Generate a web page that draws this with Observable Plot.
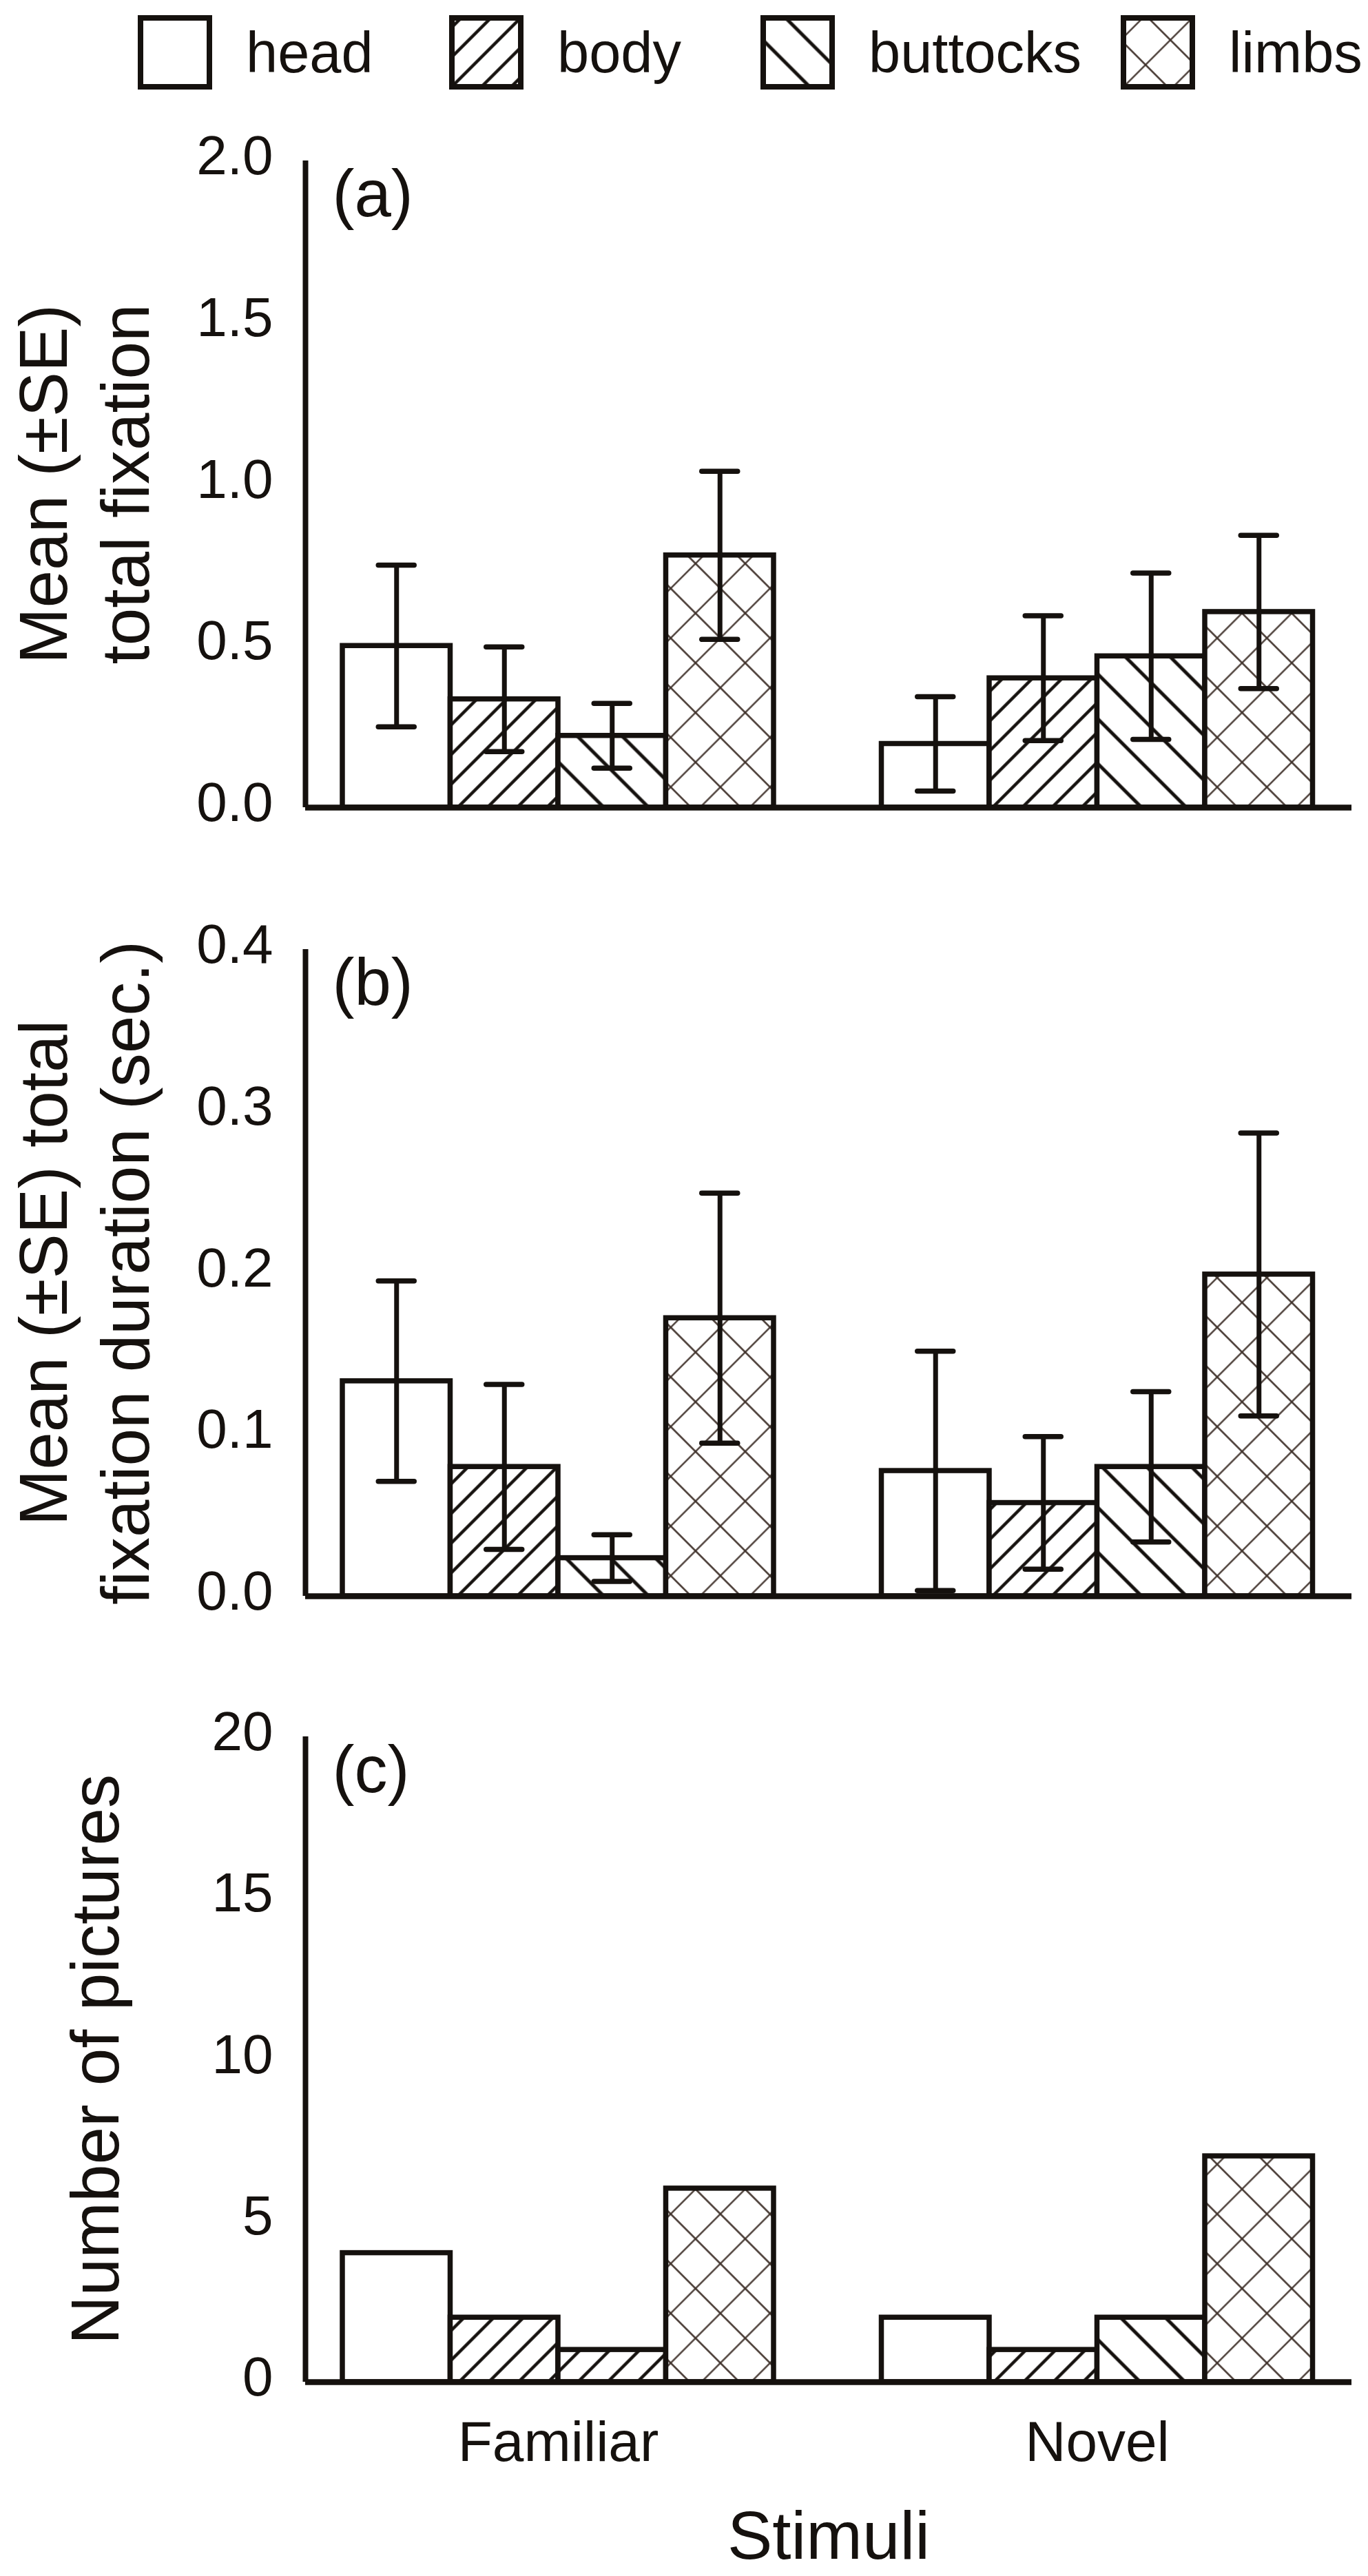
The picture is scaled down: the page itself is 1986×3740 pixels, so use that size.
<!DOCTYPE html>
<html>
<head>
<meta charset="utf-8">
<script src="https://cdn.jsdelivr.net/npm/d3@7"></script>
<script src="https://cdn.jsdelivr.net/npm/@observablehq/plot@0.6"></script>
<style>
  html, body { margin: 0; padding: 0; background: #fff; }
  #page { position: relative; width: 1986px; height: 3740px; overflow: hidden;
          font-family: "Liberation Sans", Arial, sans-serif; color: #15110e; }
  #legend { position: absolute; left: 200px; top: 22px; display: flex; }
  .item { display: flex; align-items: center; min-width: 395px; margin-right: 57px; }
  .item svg { flex: none; display: block; }
  .item span { font-size: 83px; line-height: 1; margin-left: 49px; }
  .panel { position: absolute; left: 0; }
</style>
</head>
<body>
<div id="page">
  <svg width="0" height="0" style="position:absolute;left:0;top:0">
    <defs>
      <pattern id="pat-head" patternUnits="userSpaceOnUse" width="10" height="10">
        <rect width="10" height="10" fill="#fff"/>
      </pattern>
      <pattern id="pat-body" patternUnits="userSpaceOnUse" width="30.5" height="30.5" patternTransform="rotate(45)">
        <rect width="30.5" height="30.5" fill="#fff"/>
        <line x1="15.25" y1="-2" x2="15.25" y2="33" stroke="#15110e" stroke-width="4.5"/>
      </pattern>
      <pattern id="pat-buttocks" patternUnits="userSpaceOnUse" width="46" height="46" patternTransform="rotate(-45)">
        <rect width="46" height="46" fill="#fff"/>
        <line x1="23" y1="-2" x2="23" y2="48" stroke="#15110e" stroke-width="5"/>
      </pattern>
      <pattern id="pat-limbs" patternUnits="userSpaceOnUse" width="51" height="51" patternTransform="rotate(45)">
        <rect width="51" height="51" fill="#fff"/>
        <line x1="25.5" y1="-2" x2="25.5" y2="53" stroke="#3e3029" stroke-width="2.3"/>
        <line x1="-2" y1="25.5" x2="53" y2="25.5" stroke="#3e3029" stroke-width="2.3"/>
      </pattern>
    </defs>
  </svg>
  <div id="legend"></div>
</div>
<script>
// ---------------- data ----------------
const groups = ["Familiar", "Novel"];
const parts = ["head", "body", "buttocks", "limbs"];

// (a) Mean (±SE) total fixation — order: Familiar head..limbs, Novel head..limbs
const fixationMean = [0.50, 0.335, 0.222, 0.78, 0.197, 0.40, 0.468, 0.605];
const fixationSE   = [0.25, 0.162, 0.100, 0.26, 0.146, 0.193, 0.257, 0.237];

// (b) Mean (±SE) total fixation duration (sec.)
const durationMean = [0.133, 0.080, 0.0236, 0.172, 0.0775, 0.0577, 0.080, 0.199];
const durationSE   = [0.062, 0.051, 0.0144, 0.0773, 0.074, 0.041, 0.0465, 0.0875];

// (c) Number of pictures
const pictureCount = [4, 2, 1, 6, 2, 1, 2, 7];
// hatch used for each bar in panel (c) as drawn in the original
const pictureHatch = ["head", "body", "body", "limbs", "head", "body", "buttocks", "limbs"];

const ticksA = [0, 0.5, 1.0, 1.5, 2.0];
const ticksB = [0, 0.1, 0.2, 0.3, 0.4];
const ticksC = [0, 5, 10, 15, 20];

const titleA = "Mean (±SE)\ntotal fixation";
const titleB = "Mean (±SE) total\nfixation duration (sec.)";
const titleC = "Number of pictures";
const xTitle = "Stimuli";

// ---------------- style ----------------
const INK = "#15110e";
const FONT = "Liberation Sans, Arial, sans-serif";
const W = 1986;
const ML = 443, MR = 24;
const xDomain = [-0.345, 9.361];   // slot units (one slot = one bar)
const CAP = 0.166;                  // half cap width, slot units

function buildRows(values, se, hatch) {
  const rows = [];
  groups.forEach((g, gi) => {
    parts.forEach((p, pi) => {
      const i = gi * parts.length + pi;
      const slot = gi * (parts.length + 1) + pi;
      rows.push({
        group: g, part: p, value: values[i], se: se ? se[i] : null,
        hatch: hatch ? hatch[i] : p, x1: slot, x2: slot + 1, xc: slot + 0.5
      });
    });
  });
  return rows;
}

const groupRows = groups.map((g, gi) => ({group: g, xc: gi * (parts.length + 1) + parts.length / 2}));

function panel({rows, yDomain, yTicks, yFormat, title, titleDx, tag, top, frameH, mb, xlabels}) {
  const mt = 100;
  const marks = [
    Plot.rect(rows, {
      x1: "x1", x2: "x2", y1: () => 0, y2: "value",
      fill: d => `url(#pat-${d.hatch})`, stroke: INK, strokeWidth: 7.5
    })
  ];
  if (rows[0].se != null) {
    marks.push(
      Plot.ruleX(rows, {x: "xc", y1: d => d.value - d.se, y2: d => d.value + d.se, stroke: INK, strokeWidth: 7}),
      Plot.ruleY(rows, {x1: d => d.xc - CAP, x2: d => d.xc + CAP, y: d => d.value + d.se, stroke: INK, strokeWidth: 7.5, strokeLinecap: "round"}),
      Plot.ruleY(rows, {x1: d => d.xc - CAP, x2: d => d.xc + CAP, y: d => d.value - d.se, stroke: INK, strokeWidth: 7.5, strokeLinecap: "round"})
    );
  }
  marks.push(
    Plot.ruleY([yDomain[0]], {stroke: INK, strokeWidth: 8.5}),
    Plot.ruleX([xDomain[0]], {stroke: INK, strokeWidth: 8}),
    Plot.axisY({ticks: yTicks, tickFormat: yFormat, tickSize: 0, tickPadding: 47, fontSize: 80, label: null, dy: -6}),
    Plot.text([title], {text: d => d, frameAnchor: "left", rotate: -90, dx: titleDx, fontSize: 98, lineHeight: 1.21, textAnchor: "middle", fill: INK}),
    Plot.text([tag], {text: d => d, frameAnchor: "top-left", textAnchor: "start", dx: 39, dy: 12, fontSize: 96, fill: INK})
  );
  if (xlabels) {
    marks.push(
      Plot.text(groupRows, {x: "xc", text: "group", frameAnchor: "bottom", lineAnchor: "top", dy: 56, fontSize: 82, fill: INK}),
      Plot.text([xTitle], {text: d => d, frameAnchor: "bottom", lineAnchor: "top", dy: 187, fontSize: 98, fill: INK})
    );
  }
  const chart = Plot.plot({
    width: W,
    height: mt + frameH + mb,
    marginLeft: ML, marginRight: MR, marginTop: mt, marginBottom: mb,
    x: {domain: xDomain, axis: null},
    y: {domain: yDomain},
    color: {type: "identity"},
    style: {fontFamily: FONT, fontSize: "80px", color: INK, background: "transparent", overflow: "visible"},
    marks
  });
  chart.classList.add("panel");
  chart.style.top = top + "px";
  chart.style.position = "absolute";
  chart.style.left = "0px";
  document.getElementById("page").appendChild(chart);
}

panel({rows: buildRows(fixationMean, fixationSE), yDomain: [0, 2], yTicks: ticksA, yFormat: d3.format(".1f"),
       title: titleA, titleDx: -325, tag: "(a)", top: 133, frameH: 939, mb: 30});
panel({rows: buildRows(durationMean, durationSE), yDomain: [0, 0.4], yTicks: ticksB, yFormat: d3.format(".1f"),
       title: titleB, titleDx: -325, tag: "(b)", top: 1278, frameH: 939, mb: 30});
panel({rows: buildRows(pictureCount, null, pictureHatch), yDomain: [0, 20], yTicks: ticksC, yFormat: d3.format("d"),
       title: titleC, titleDx: -309, tag: "(c)", top: 2421, frameH: 937, mb: 270, xlabels: true});

// ---------------- legend ----------------
const legend = d3.select("#legend");
parts.forEach(p => {
  const item = legend.append("div").attr("class", "item");
  const s = item.append("svg").attr("width", 108).attr("height", 108);
  s.append("rect").attr("x", 4).attr("y", 4).attr("width", 100).attr("height", 100)
    .attr("fill", `url(#pat-${p})`).attr("stroke", INK).attr("stroke-width", 8);
  item.append("span").text(p);
});
</script>
</body>
</html>
